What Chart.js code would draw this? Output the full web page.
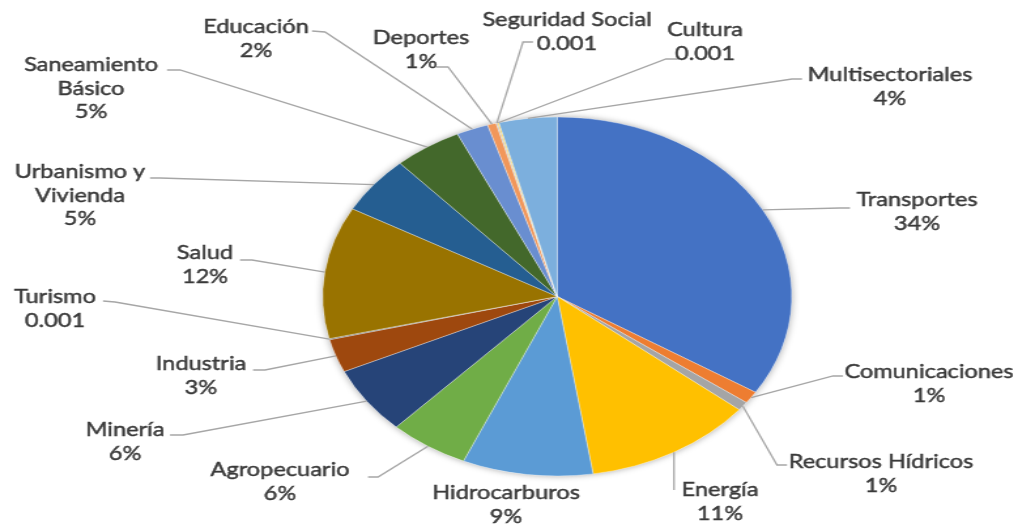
<!DOCTYPE html>
<html><head><meta charset="utf-8">
<script src="https://cdn.jsdelivr.net/npm/chart.js@4.4.0/dist/chart.umd.min.js"></script>
<style>
html,body{margin:0;padding:0;background:#fff;overflow:hidden;}
#wrap{width:779px;height:525px;transform:scaleX(1.3068);transform-origin:0 0;}
</style></head><body>
<div id="wrap"><canvas id="c" width="779" height="525"></canvas></div>
<script>
// ---- data ----
const categories = ['Transportes','Comunicaciones','Recursos Hídricos','Energía','Hidrocarburos','Agropecuario','Minería','Industria','Turismo','Salud','Urbanismo y Vivienda','Saneamiento Básico','Educación','Deportes','Seguridad Social','Cultura','Multisectoriales'];
const values = [34.0, 1.1, 0.8, 11.7, 9.0, 5.5, 6.1, 3.0, 0.1, 11.9, 5.2, 4.7, 2.2, 0.6, 0.1, 0.1, 4.0];
const valueLabels = ['34%','1%','1%','11%','9%','6%','6%','3%','0.001','12%','5%','5%','2%','1%','0.001','0.001','4%'];
const colors = ['#4472C4','#ED7D31','#A5A5A5','#FFC000','#5B9BD5','#70AD47','#264478','#9E480E','#636363','#997300','#255E91','#43682B','#698ED0','#F1975A','#B7B7B7','#FFCD33','#7CAFDD'];

// ---- layout (screen px) ----
const SX = 1.3068;
const wrapNames = {'Urbanismo y Vivienda':['Urbanismo y','Vivienda'],'Saneamiento Básico':['Saneamiento','Básico']};
const labelPos = [[917,200],[929,372],[881,462],[720,490],[506,493],[280,470],[125,430],[201,364],[55,297],[205,253],[80,172],[91,65],[256,27],[421,38],[567,20],[705,30],[890,75]];
// [kneeX, kneeY, endX, endY] of leader line near label, null = none
const leaders = [[840,208,850,208],[833,376,843,376],[777,465,787,465],[674,488,674,490],null,[378,477,368,477],[183,435,170,435],[265,370,253,370],[115,302,103,301],[252,260,240,260],[160,178,150,178],[180,70,167,70],[325,32,312,31],[448,67,436,67],[523,42,533,42],[666,59,678,59],[792,79,802,79]];
const LINE_H = 23.5;
const TARGET_W = 121; // screen width of 'Transportes'

const outLabels = {
  id:'outLabels',
  beforeDatasetsDraw(chart){
    const a = chart.getDatasetMeta(0).data[0];
    const ctx = chart.ctx;
    ctx.save();
    ctx.beginPath();
    ctx.arc(a.x, a.y, a.outerRadius, 0, Math.PI*2);
    ctx.fillStyle = '#fff';
    ctx.shadowColor = 'rgba(0,0,0,0.35)';
    ctx.shadowBlur = 6;
    ctx.fill();
    ctx.restore();
  },
  afterDatasetsDraw(chart){
    const ctx = chart.ctx;
    const meta = chart.getDatasetMeta(0);
    ctx.save();
    ctx.font = '19.5px Lato';
    const tsx = (TARGET_W / SX) / ctx.measureText('Transportes').width;
    ctx.strokeStyle = '#A6A6A6';
    ctx.lineWidth = 1.3;
    meta.data.forEach((arc, i) => {
      const L = leaders[i];
      if (L) {
        const mid = (arc.startAngle + arc.endAngle) / 2;
        const px = arc.x + Math.cos(mid) * arc.outerRadius;
        const py = arc.y + Math.sin(mid) * arc.outerRadius;
        ctx.beginPath();
        ctx.moveTo(px, py);
        ctx.lineTo(L[0] / SX, L[1]);
        ctx.lineTo(L[2] / SX, L[3]);
        ctx.stroke();
      }
    });
    ctx.fillStyle = '#3a3a3a';
    ctx.strokeStyle = '#3a3a3a';
    ctx.lineWidth = 0.45;
    ctx.textAlign = 'center';
    ctx.textBaseline = 'middle';
    categories.forEach((c, i) => {
      const lines = (wrapNames[c] || [c]).concat([valueLabels[i]]);
      const [cx, cy] = labelPos[i];
      lines.forEach((t, k) => {
        ctx.save();
        ctx.translate(cx / SX, cy + k * LINE_H);
        ctx.scale(tsx, 1);
        ctx.fillText(t, 0, 0);
        ctx.strokeText(t, 0, 0);
        ctx.restore();
      });
    });
    ctx.restore();
  }
};

new Chart(document.getElementById('c'), {
  type: 'pie',
  data: { labels: categories, datasets: [{ data: values, backgroundColor: colors, borderColor: 'rgba(255,255,255,0.45)', borderWidth: 0.7 }] },
  options: {
    responsive: false,
    animation: false,
    radius: 179.5,
    layout: { padding: { left: 80, right: 6.2, top: 70, bottom: 2 } },
    plugins: { legend: { display: false }, tooltip: { enabled: false } }
  },
  plugins: [outLabels]
});
</script>
</body></html>
